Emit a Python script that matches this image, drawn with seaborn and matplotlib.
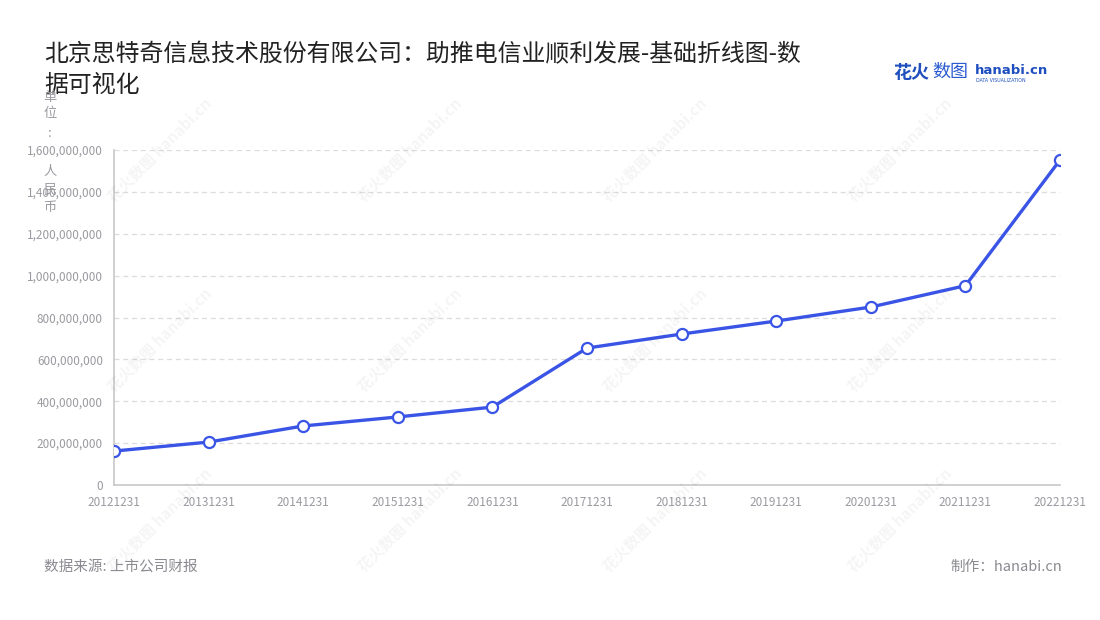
import matplotlib
matplotlib.use("Agg")
import matplotlib.pyplot as plt
import numpy as np
import pandas as pd
import seaborn as sns
from matplotlib.ticker import FuncFormatter, MultipleLocator

# data (yuan)
dates = ["20121231", "20131231", "20141231", "20151231", "20161231", "20171231",
         "20181231", "20191231", "20201231", "20211231", "20221231"]
revenue = [162e6, 205e6, 282e6, 325e6, 372e6, 654e6,
           721e6, 783e6, 850e6, 952e6, 1552e6]

title = "北京思特奇信息技术股份有限公司：助推电信业顺利发展-基础折线图-数\n据可视化"
unit_chars = ["单", "位", ":", "人", "民", "币"]
source = "数据来源: 上市公司财报"
credit = "制作：hanabi.cn"

sns.set_theme(style="white")
plt.rcParams["font.family"] = ["Noto Sans CJK SC", "DejaVu Sans"]

LINE = "#3a55e6"
GREY = "#9a9aa0"

df = pd.DataFrame({"date": dates, "revenue": revenue})
df["pos"] = np.arange(len(dates))

fig = plt.figure(figsize=(11, 6.2), dpi=100)
ax = fig.add_axes([114 / 1100, 1 - 485 / 620, (1060 - 114) / 1100, (485 - 150) / 620])

# faint watermarks (behind everything)
for wx in [160, 410, 655, 900]:
    for wy in [150, 340, 520]:
        fig.text(wx / 1100, 1 - wy / 620, "花火数图 hanabi.cn", fontsize=11,
                 color="#000000", alpha=0.045, rotation=45,
                 ha="center", va="center", fontweight="bold", zorder=0)

sns.lineplot(data=df, x="pos", y="revenue", ax=ax, color=LINE, linewidth=2.4,
             marker="o", markersize=8, markerfacecolor="white",
             markeredgecolor=LINE, markeredgewidth=1.6, zorder=3)
ax.patch.set_alpha(0)

ax.set_xlim(0, len(dates) - 1)
ax.set_ylim(0, 1.6e9)
ax.set_xticks(df["pos"])
ax.set_xticklabels(dates)
ax.yaxis.set_major_locator(MultipleLocator(2e8))
ax.yaxis.set_major_formatter(FuncFormatter(lambda v, _: f"{int(v):,}"))
ax.set_xlabel("")
ax.set_ylabel("")

ax.grid(axis="y", color="#dcdcdc", linestyle=(0, (4, 3)), linewidth=0.9)
ax.grid(axis="x", visible=False)
for side in ["top", "right"]:
    ax.spines[side].set_visible(False)
for side in ["left", "bottom"]:
    ax.spines[side].set_color("#c8c8c8")
    ax.spines[side].set_linewidth(1.2)
ax.tick_params(axis="both", colors="#c8c8c8", labelcolor=GREY, labelsize=8.5,
               length=5, width=1, direction="out", pad=3)

# title
fig.text(44 / 1100, 1 - 43 / 620, title, fontsize=17.2, color="#222222",
         va="top", ha="left", linespacing=1.45)

# y unit, one character per line as in the reference
for ch, cy in zip(unit_chars, [97, 113, 134, 171, 190, 207]):
    fig.text(50 / 1100, 1 - cy / 620, ch, fontsize=9.5, color=GREY,
             va="center", ha="center")

# footer
fig.text(44 / 1100, 1 - 567 / 620, source, fontsize=10.5, color="#8a8a90", va="center")
fig.text(1062 / 1100, 1 - 567 / 620, credit, fontsize=10.5, color="#8a8a90",
         va="center", ha="right")

# logo
fig.text(893 / 1100, 1 - 72 / 620, "花火", fontsize=13, color="#1f4fbf",
         fontweight="bold", va="center")
fig.text(932 / 1100, 1 - 72 / 620, "数图", fontsize=13, color="#2a5bd0", va="center")
fig.text(975 / 1100, 1 - 70 / 620, "hanabi.cn", fontsize=9.5, color="#1f4fbf",
         fontweight="bold", va="center", family=["DejaVu Sans"])
fig.text(976 / 1100, 1 - 80 / 620, "DATA VISUALIZATION", fontsize=3.4, color="#1f4fbf",
         va="center", family=["DejaVu Sans"])

fig.savefig("out.png", dpi=100)
plt.close(fig)
